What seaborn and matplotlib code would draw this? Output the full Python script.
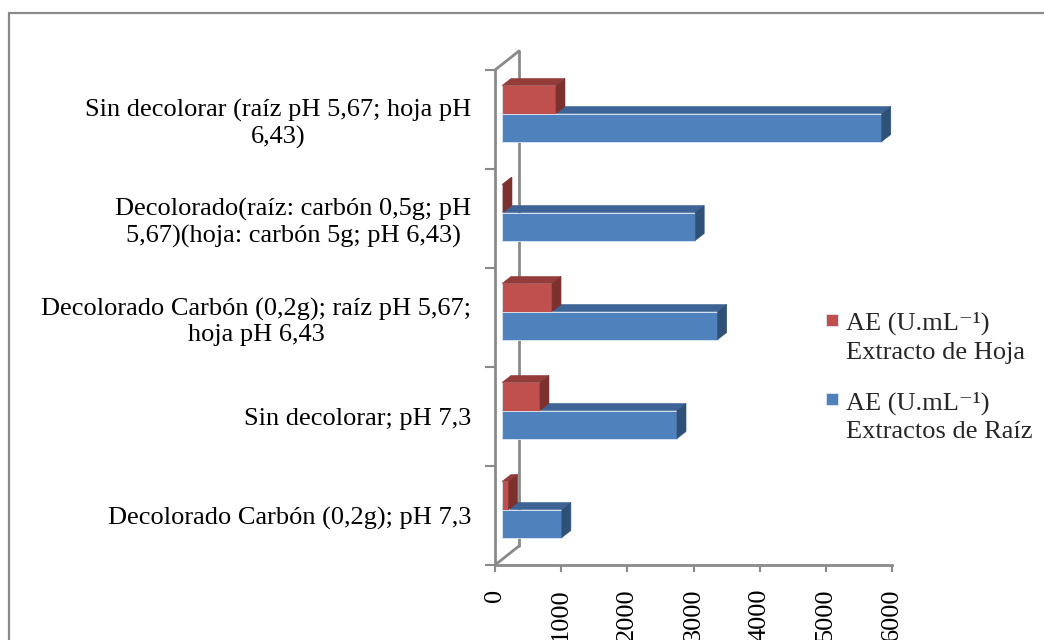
import numpy as np
import pandas as pd
import seaborn as sns
import matplotlib.pyplot as plt
from matplotlib.patches import Polygon, Rectangle
from matplotlib.legend_handler import HandlerPatch

# ---- data -------------------------------------------------------------
categorias = [
    "Sin decolorar (raíz pH 5,67; hoja pH\n6,43)",
    "Decolorado(raíz: carbón 0,5g; pH\n5,67)(hoja: carbón 5g; pH 6,43)",
    "Decolorado Carbón (0,2g); raíz pH 5,67;\nhoja pH 6,43",
    "Sin decolorar; pH 7,3",
    "Decolorado Carbón (0,2g); pH 7,3",
]
ae_hoja = [816, 15, 756, 574, 100]
ae_raiz = [5740, 2920, 3260, 2645, 905]
serie_hoja = "AE (U.mL\u207b\u00b9)\nExtracto de Hoja"
serie_raiz = "AE (U.mL\u207b\u00b9)\nExtractos de Raíz"
ticks_x = [0, 1000, 2000, 3000, 4000, 5000, 6000]

# ---- style ------------------------------------------------------------
ROJO, ROJO_TOP, ROJO_SIDE = "#C0504D", "#943C3A", "#7C312F"
AZUL, AZUL_TOP, AZUL_SIDE = "#4F81BD", "#3D6494", "#2F5077"
GRIS = "#8A8A8A"
FS = 19

sns.set_theme(style="white")
plt.rcParams["font.family"] = ["Liberation Serif", "DejaVu Serif"]

W, H = 1044, 640
fig = plt.figure(figsize=(W / 100, H / 100), dpi=100)
ax = fig.add_axes([495 / W, (H - 565) / H, 397 / W, 495 / H])

df = pd.DataFrame({
    "categoria": categorias * 2,
    "valor": ae_hoja + ae_raiz,
    "serie": [serie_hoja] * len(categorias) + [serie_raiz] * len(categorias),
})

sns.barplot(data=df, y="categoria", x="valor", hue="serie",
            order=categorias, hue_order=[serie_hoja, serie_raiz],
            palette=[ROJO, AZUL], orient="h", width=0.566, dodge=True,
            saturation=1, edgecolor="#DCE6F2", linewidth=0.6, ax=ax)

ax.set_xlim(0, 6000)
ax.set_ylim(4.5, -0.5)
ax.set_xlabel("")
ax.set_ylabel("")

# ---- pseudo-3D bars ---------------------------------------------------
SHIFT = (7, 6)     # front face offset (px right, px up)
DEPTH = (9, 7)     # bar depth (px right, px up)
to_px = ax.transData.transform
to_data = ax.transData.inverted().transform

shades = [(ROJO_TOP, ROJO_SIDE, 3), (AZUL_TOP, AZUL_SIDE, 2)]
for cont, (c_top, c_side, z) in zip(ax.containers, shades):
    for bar in cont:
        x0, y0 = bar.get_x(), bar.get_y()
        w, h = bar.get_width(), bar.get_height()
        p = to_px([(x0, y0), (x0 + w, y0 + h)])
        p[:, 0] += SHIFT[0]
        p[:, 1] += SHIFT[1]
        d = to_data(p)
        bar.set_x(min(d[:, 0]))
        bar.set_y(min(d[:, 1]))
        bar.set_zorder(z)
        L, R = p[:, 0].min(), p[:, 0].max()
        B, T = p[:, 1].min(), p[:, 1].max()
        dx, dy = DEPTH
        top = [(L, T), (R, T), (R + dx, T + dy), (L + dx, T + dy)]
        side = [(R, T), (R, B), (R + dx, B + dy), (R + dx, T + dy)]
        for verts, col in ((top, c_top), (side, c_side)):
            ax.add_patch(Polygon(to_data(np.array(verts)), closed=True,
                                 facecolor=col, edgecolor=col, lw=0.4,
                                 zorder=z + 0.1, clip_on=False))

# ---- back wall of the category axis ----------------------------------
WALL = (24, 19)
for yv in (-0.5, 4.5):
    p0 = to_px([(0, yv)])[0]
    seg = to_data(np.array([p0, p0 + np.array(WALL)]))
    ax.plot(seg[:, 0], seg[:, 1], color=GRIS, lw=2, clip_on=False, zorder=1)
back = to_px([(0, -0.5), (0, 4.5)]) + np.array(WALL)
back = to_data(back)
ax.plot(back[:, 0], back[:, 1], color=GRIS, lw=2, clip_on=False, zorder=1)

# ---- axes -------------------------------------------------------------
for s in ("top", "right"):
    ax.spines[s].set_visible(False)
for s in ("left", "bottom"):
    ax.spines[s].set_color(GRIS)
    ax.spines[s].set_linewidth(2)

ax.set_xticks(ticks_x)
ax.set_xticklabels([str(t) for t in ticks_x], rotation=90)
ax.tick_params(axis="x", bottom=True, length=5, width=1.5, color=GRIS,
               pad=12, labelsize=FS, labelcolor="black")
ax.set_yticks(np.arange(-0.5, len(categorias), 1), minor=True)
ax.tick_params(axis="y", which="major", left=True, length=0, pad=17,
               labelsize=FS, labelcolor="black")
ax.tick_params(axis="y", which="minor", left=True, length=7, width=1.5,
               color=GRIS)
for lab in ax.get_yticklabels():
    lab.set_multialignment("center")
    lab.set_linespacing(1.19)

# ---- legend -----------------------------------------------------------
def cuadro(legend, orig_handle, xdescent, ydescent, width, height, fontsize):
    s = 0.45 * fontsize
    yc = 1.02 * fontsize
    return Rectangle((-xdescent, yc - s / 2), s, s)

handles, labels = ax.get_legend_handles_labels()
ax.get_legend().remove()
leg = fig.legend(handles, labels, loc="upper left",
                 bbox_to_anchor=(826 / W, 1 - 312 / H), frameon=False,
                 fontsize=FS, handlelength=0.47, handleheight=0.7,
                 handletextpad=0.3, labelspacing=1.02, borderpad=0,
                 borderaxespad=0,
                 handler_map={Rectangle: HandlerPatch(patch_func=cuadro)})
for t in leg.get_texts():
    t.set_linespacing(1.4)

# ---- outer frame ------------------------------------------------------
fig.add_artist(Rectangle((9 / W, -0.1), 1.2, 0.1 + (H - 13) / H,
                         transform=fig.transFigure, fill=False,
                         edgecolor=GRIS, lw=1.6))

fig.savefig("out.png", dpi=100)
